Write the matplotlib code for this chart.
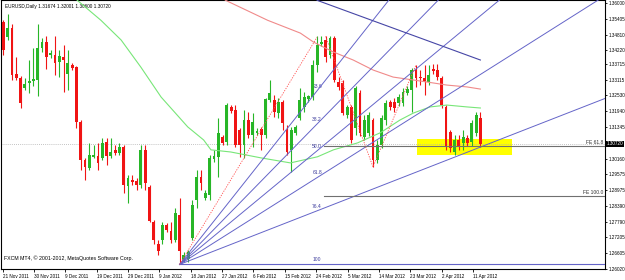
import numpy as np
import matplotlib
matplotlib.use("Agg")
import matplotlib.pyplot as plt
import matplotlib.transforms as mtransforms
from matplotlib.patches import Rectangle

plt.rcParams["font.family"] = ["Liberation Sans", "DejaVu Sans"]

# ---- daily EURUSD candles, 21 Nov 2011 .. 13 Apr 2012 ----
OPEN = [1.3528, 1.3472, 1.3505, 1.3333, 1.3318, 1.3281, 1.3300, 1.3307, 1.3311, 1.3431,
        1.3453, 1.3405, 1.3405, 1.3378, 1.3397, 1.3333, 1.3367, 1.3359, 1.3154, 1.3012,
        1.2982, 1.3023, 1.3027, 1.3019, 1.3079, 1.3027, 1.3049, 1.3038, 1.3060, 1.2914,
        1.2937, 1.2933, 1.2918, 1.3049, 1.2911, 1.2780, 1.2694, 1.2712, 1.2768, 1.2746,
        1.2712, 1.2806, 1.2630, 1.2638, 1.2720, 1.2862, 1.2948, 1.2869, 1.2881, 1.3015,
        1.3023, 1.3098, 1.3079, 1.3210, 1.3199, 1.3124, 1.3068, 1.3161, 1.3106, 1.3113,
        1.3128, 1.3106, 1.3236, 1.3236, 1.3187, 1.3229, 1.3124, 1.3049, 1.3113, 1.3169,
        1.3210, 1.3240, 1.3247, 1.3367, 1.3446, 1.3461, 1.3405, 1.3468, 1.3303, 1.3300,
        1.3180, 1.3210, 1.3131, 1.3262, 1.3098, 1.3113, 1.3161, 1.3012, 1.3068, 1.3161,
        1.3229, 1.3229, 1.3225, 1.3225, 1.3262, 1.3274, 1.3348, 1.3322, 1.3318, 1.3303,
        1.3352, 1.3348, 1.3318, 1.3210, 1.3116, 1.3042, 1.3087, 1.3075, 1.3094, 1.3079,
        1.3113, 1.3167]
HIGH = [1.3535, 1.3558, 1.3520, 1.3397, 1.3326, 1.3318, 1.3386, 1.3431, 1.3520, 1.3468,
        1.3476, 1.3423, 1.3476, 1.3423, 1.3442, 1.3423, 1.3374, 1.3363, 1.3161, 1.3019,
        1.3075, 1.3068, 1.3075, 1.3094, 1.3094, 1.3094, 1.3068, 1.3075, 1.3068, 1.2956,
        1.2956, 1.2944, 1.3068, 1.3068, 1.2918, 1.2787, 1.2712, 1.2780, 1.2776, 1.2780,
        1.2832, 1.2869, 1.2664, 1.2675, 1.2862, 1.2974, 1.2974, 1.2899, 1.3030, 1.3049,
        1.3169, 1.3106, 1.3225, 1.3217, 1.3217, 1.3131, 1.3199, 1.3191, 1.3187, 1.3131,
        1.3135, 1.3243, 1.3311, 1.3255, 1.3243, 1.3236, 1.3143, 1.3135, 1.3143, 1.3281,
        1.3266, 1.3255, 1.3386, 1.3475, 1.3475, 1.3475, 1.3475, 1.3475, 1.3322, 1.3311,
        1.3217, 1.3217, 1.3288, 1.3274, 1.3180, 1.3191, 1.3169, 1.3087, 1.3180, 1.3236,
        1.3236, 1.3243, 1.3258, 1.3281, 1.3288, 1.3356, 1.3367, 1.3348, 1.3367, 1.3367,
        1.3371, 1.3371, 1.3326, 1.3217, 1.3124, 1.3105, 1.3105, 1.3124, 1.3105, 1.3161,
        1.3191, 1.3190]
LOW = [1.3405, 1.3461, 1.3311, 1.3311, 1.3206, 1.3274, 1.3262, 1.3289, 1.3251, 1.3416,
       1.3352, 1.3393, 1.3330, 1.3322, 1.3266, 1.3274, 1.3348, 1.3131, 1.2974, 1.2937,
       1.2974, 1.3019, 1.2974, 1.3012, 1.2993, 1.3019, 1.3030, 1.3030, 1.2888, 1.2851,
       1.2918, 1.2899, 1.2907, 1.2899, 1.2780, 1.2694, 1.2656, 1.2694, 1.2742, 1.2701,
       1.2705, 1.2619, 1.2627, 1.2630, 1.2712, 1.2832, 1.2899, 1.2862, 1.2862, 1.3004,
       1.2948, 1.3068, 1.3068, 1.3187, 1.3060, 1.3023, 1.3019, 1.3094, 1.3060, 1.3106,
       1.3049, 1.3094, 1.3229, 1.3172, 1.3169, 1.3124, 1.3031, 1.2967, 1.3106, 1.3161,
       1.3191, 1.3229, 1.3236, 1.3341, 1.3438, 1.3378, 1.3393, 1.3303, 1.3274, 1.3180,
       1.3169, 1.3075, 1.3105, 1.3101, 1.3087, 1.3101, 1.2985, 1.3000, 1.3057, 1.3143,
       1.3199, 1.3191, 1.3214, 1.3214, 1.3255, 1.3191, 1.3285, 1.3292, 1.3255, 1.3292,
       1.3333, 1.3311, 1.3206, 1.3049, 1.3042, 1.3031, 1.3049, 1.3049, 1.3064, 1.3064,
       1.3101, 1.3060]
CLOSE = [1.3423, 1.3505, 1.3330, 1.3318, 1.3225, 1.3296, 1.3307, 1.3315, 1.3431, 1.3453,
         1.3397, 1.3412, 1.3374, 1.3401, 1.3386, 1.3374, 1.3356, 1.3154, 1.3012, 1.2985,
         1.3030, 1.3030, 1.3000, 1.3075, 1.3027, 1.3042, 1.3038, 1.3060, 1.2918, 1.2944,
         1.2929, 1.2918, 1.3049, 1.2926, 1.2783, 1.2712, 1.2668, 1.2768, 1.2750, 1.2712,
         1.2813, 1.2671, 1.2653, 1.2664, 1.2843, 1.2948, 1.2926, 1.2888, 1.3019, 1.3027,
         1.3113, 1.3075, 1.3217, 1.3195, 1.3068, 1.3068, 1.3161, 1.3106, 1.3154, 1.3120,
         1.3106, 1.3240, 1.3262, 1.3191, 1.3229, 1.3150, 1.3042, 1.3124, 1.3135, 1.3236,
         1.3247, 1.3251, 1.3367, 1.3442, 1.3453, 1.3397, 1.3468, 1.3311, 1.3285, 1.3187,
         1.3210, 1.3086, 1.3281, 1.3113, 1.3161, 1.3180, 1.3012, 1.3068, 1.3169, 1.3225,
         1.3210, 1.3206, 1.3247, 1.3266, 1.3277, 1.3348, 1.3318, 1.3318, 1.3303, 1.3330,
         1.3345, 1.3322, 1.3217, 1.3060, 1.3057, 1.3087, 1.3060, 1.3098, 1.3075, 1.3150,
         1.3180, 1.3072]

DATE_LABELS = ["21 Nov 2011", "30 Nov 2011", "9 Dec 2011", "19 Dec 2011", "29 Dec 2011",
               "9 Jan 2012", "18 Jan 2012", "27 Jan 2012", "6 Feb 2012", "15 Feb 2012",
               "24 Feb 2012", "5 Mar 2012", "14 Mar 2012", "23 Mar 2012", "2 Apr 2012",
               "11 Apr 2012"]
PRICE_TICKS = [1.36000, 1.35405, 1.34810, 1.34220, 1.33715, 1.33115, 1.32530, 1.31940,
               1.31345, 1.30160, 1.29575, 1.28975, 1.28390, 1.27790, 1.27205, 1.26605,
               1.26020]
LAST_PRICE = 1.30720
TITLE = "EURUSD,Daily 1.31674 1.32001 1.30600 1.30720"

# moving averages, sampled at bar positions
GREEN_MA_X = [15.8, 17.2, 22.7, 27.4, 32.0, 36.7, 42.9, 46.6, 48.3, 52.9, 59.9, 66.8,
              73.1, 76.8, 82.4, 87.7, 92.3, 95.4, 99.3, 103.2, 107.9, 111.0]
GREEN_MA_Y = [1.3632, 1.3610, 1.3535, 1.3461, 1.3359, 1.3247, 1.3135, 1.3086, 1.3049,
              1.3041, 1.3019, 1.3000, 1.3023, 1.3049, 1.3075, 1.3113, 1.3161, 1.3187,
              1.3210, 1.3217, 1.3210, 1.3206]
RED_MA_X = [49.4, 51.7, 61.5, 69.1, 72.2, 76.8, 81.4, 86.1, 90.7, 95.4, 100.0, 103.2,
            107.9, 111.0]
RED_MA_Y = [1.3640, 1.3610, 1.3535, 1.3487, 1.3453, 1.3416, 1.3386, 1.3348, 1.3322,
            1.3311, 1.3300, 1.3292, 1.3285, 1.3277]

# drawing objects
FAN_P1 = (41, 1.2619)          # low anchor
FAN_P2 = (73, 1.3472)          # high anchor
FAN_LEVELS = [23.6, 38.2, 50.0, 61.8, 76.4]
FAN_LABELS = ["23.6", "38.2", "50.0", "61.8", "76.4"]
FE_X = [75, 86, 96]
FE_Y = [1.3475, 1.2985, 1.3367]
TREND_X = [73, 111]
TREND_Y = [1.3610, 1.3386]
BOX_X = (96.3, 118.3)
BOX_Y = (1.3030, 1.3090)

BULL = "#27b627"
BEAR = "#f01414"
FAN_COLOR = "#6464c8"
LABEL_COLOR = "#3c3c9c"


def main():
    o, h, l, c = (np.array(v) for v in (OPEN, HIGH, LOW, CLOSE))
    idx = np.arange(len(o))
    xmax = 140

    fig = plt.figure(figsize=(6.25, 2.8), dpi=100)
    ax = fig.add_axes([0.002, 1 - 269 / 280, 605 / 625 - 0.002, 269 / 280 - 0.001])
    ax.set_xlim(-0.5, xmax)
    ax.set_ylim(1.26046, 1.36101)

    # yellow box behind everything
    ax.add_patch(Rectangle((BOX_X[0], BOX_Y[0]), BOX_X[1] - BOX_X[0], BOX_Y[1] - BOX_Y[0],
                           fc="#ffff00", ec="none", zorder=1))

    # current price dotted line
    ax.axhline(LAST_PRICE, color="#b0b0b0", lw=0.6, ls=(0, (1, 1.5)), zorder=1.5)

    # candles
    up = c >= o
    cols = np.where(up, BULL, BEAR)
    ax.vlines(idx, l, h, colors=cols, lw=0.8, zorder=3)
    body = np.maximum(np.abs(c - o), 0.00022)
    ax.bar(idx, body, bottom=np.minimum(o, c), width=0.66, color=cols, lw=0, zorder=3)

    # moving averages
    ax.plot(GREEN_MA_X, GREEN_MA_Y, color="#78e678", lw=0.8, zorder=4)
    ax.plot(RED_MA_X, RED_MA_Y, color="#f08a8a", lw=0.8, zorder=4)

    # fibo fan
    x1, y1 = FAN_P1
    x2, y2 = FAN_P2
    rng = y2 - y1
    for lev, lab in zip(FAN_LEVELS, FAN_LABELS):
        yl = y2 - lev / 100 * rng
        slope = (yl - y1) / (x2 - x1)
        ax.plot([x1, xmax], [y1, y1 + slope * (xmax - x1)], color=FAN_COLOR, lw=0.7, zorder=5)
        ax.text(x2, yl + 0.0008, lab, fontsize=3.6, color=LABEL_COLOR, ha="center",
                va="bottom", zorder=2)
    ax.plot([x1, xmax], [y1, y1], color=FAN_COLOR, lw=0.8, zorder=5)
    ax.text(x2, y1 + 0.0008, "100", fontsize=3.6, color=LABEL_COLOR, ha="center",
            va="bottom", zorder=2)
    ax.plot([x1, x2], [y1, y2], color="#ff5050", lw=0.6, ls=(0, (1.5, 1.5)), zorder=5)

    # trend line
    ax.plot(TREND_X, TREND_Y, color="#4646a6", lw=0.8, zorder=5)

    # fibo expansion
    ax.plot(FE_X, FE_Y, color="#ff5050", lw=0.6, ls=(0, (1.5, 1.5)), zorder=5)
    leg = FE_Y[0] - FE_Y[1]
    for lev, lab in [(61.8, "FE 61.8"), (100.0, "FE 100.0")]:
        yl = FE_Y[2] - lev / 100 * leg
        ax.plot([FE_X[0] - 0.5, xmax], [yl, yl], color="#707070", lw=0.8, zorder=5)
        ax.text(xmax - 0.3, yl + 0.0003, lab, fontsize=3.6, color="#303030",
                ha="right", va="bottom", zorder=6)

    # texts
    ax.text(0.006, 0.985, TITLE, transform=ax.transAxes, fontsize=3.4, va="top", ha="left")
    ax.text(0.004, 0.028, "FXCM MT4, \u00a9 2001-2012, MetaQuotes Software Corp.",
            transform=ax.transAxes, fontsize=3.8, va="bottom", ha="left")

    # axes
    for s in ax.spines.values():
        s.set_color("black")
        s.set_linewidth(0.8)
    ax.yaxis.tick_right()
    ax.set_yticks(PRICE_TICKS)
    ax.set_yticklabels([f"{v:.5f}" for v in PRICE_TICKS])
    ax.tick_params(axis="y", direction="out", length=1.5, width=0.6, pad=0.8,
                   labelsize=3.3)
    ax.set_xticks(np.arange(len(DATE_LABELS)) * 7.3 - 0.2)
    ax.set_xticklabels(DATE_LABELS)
    ax.tick_params(axis="x", direction="out", length=2.5, width=0.6, pad=0.8,
                   labelsize=3.3)
    for t in ax.get_xticklabels():
        t.set_horizontalalignment("left")

    trans = mtransforms.blended_transform_factory(ax.transAxes, ax.transData)
    ax.text(1.003, LAST_PRICE, f"{LAST_PRICE:.5f}", transform=trans, fontsize=3.3,
            color="white", va="center", ha="left",
            bbox=dict(boxstyle="square,pad=0.15", fc="black", ec="none"), zorder=10,
            clip_on=False)

    fig.savefig("out.png", dpi=100)
    plt.close(fig)


if __name__ == "__main__":
    main()
